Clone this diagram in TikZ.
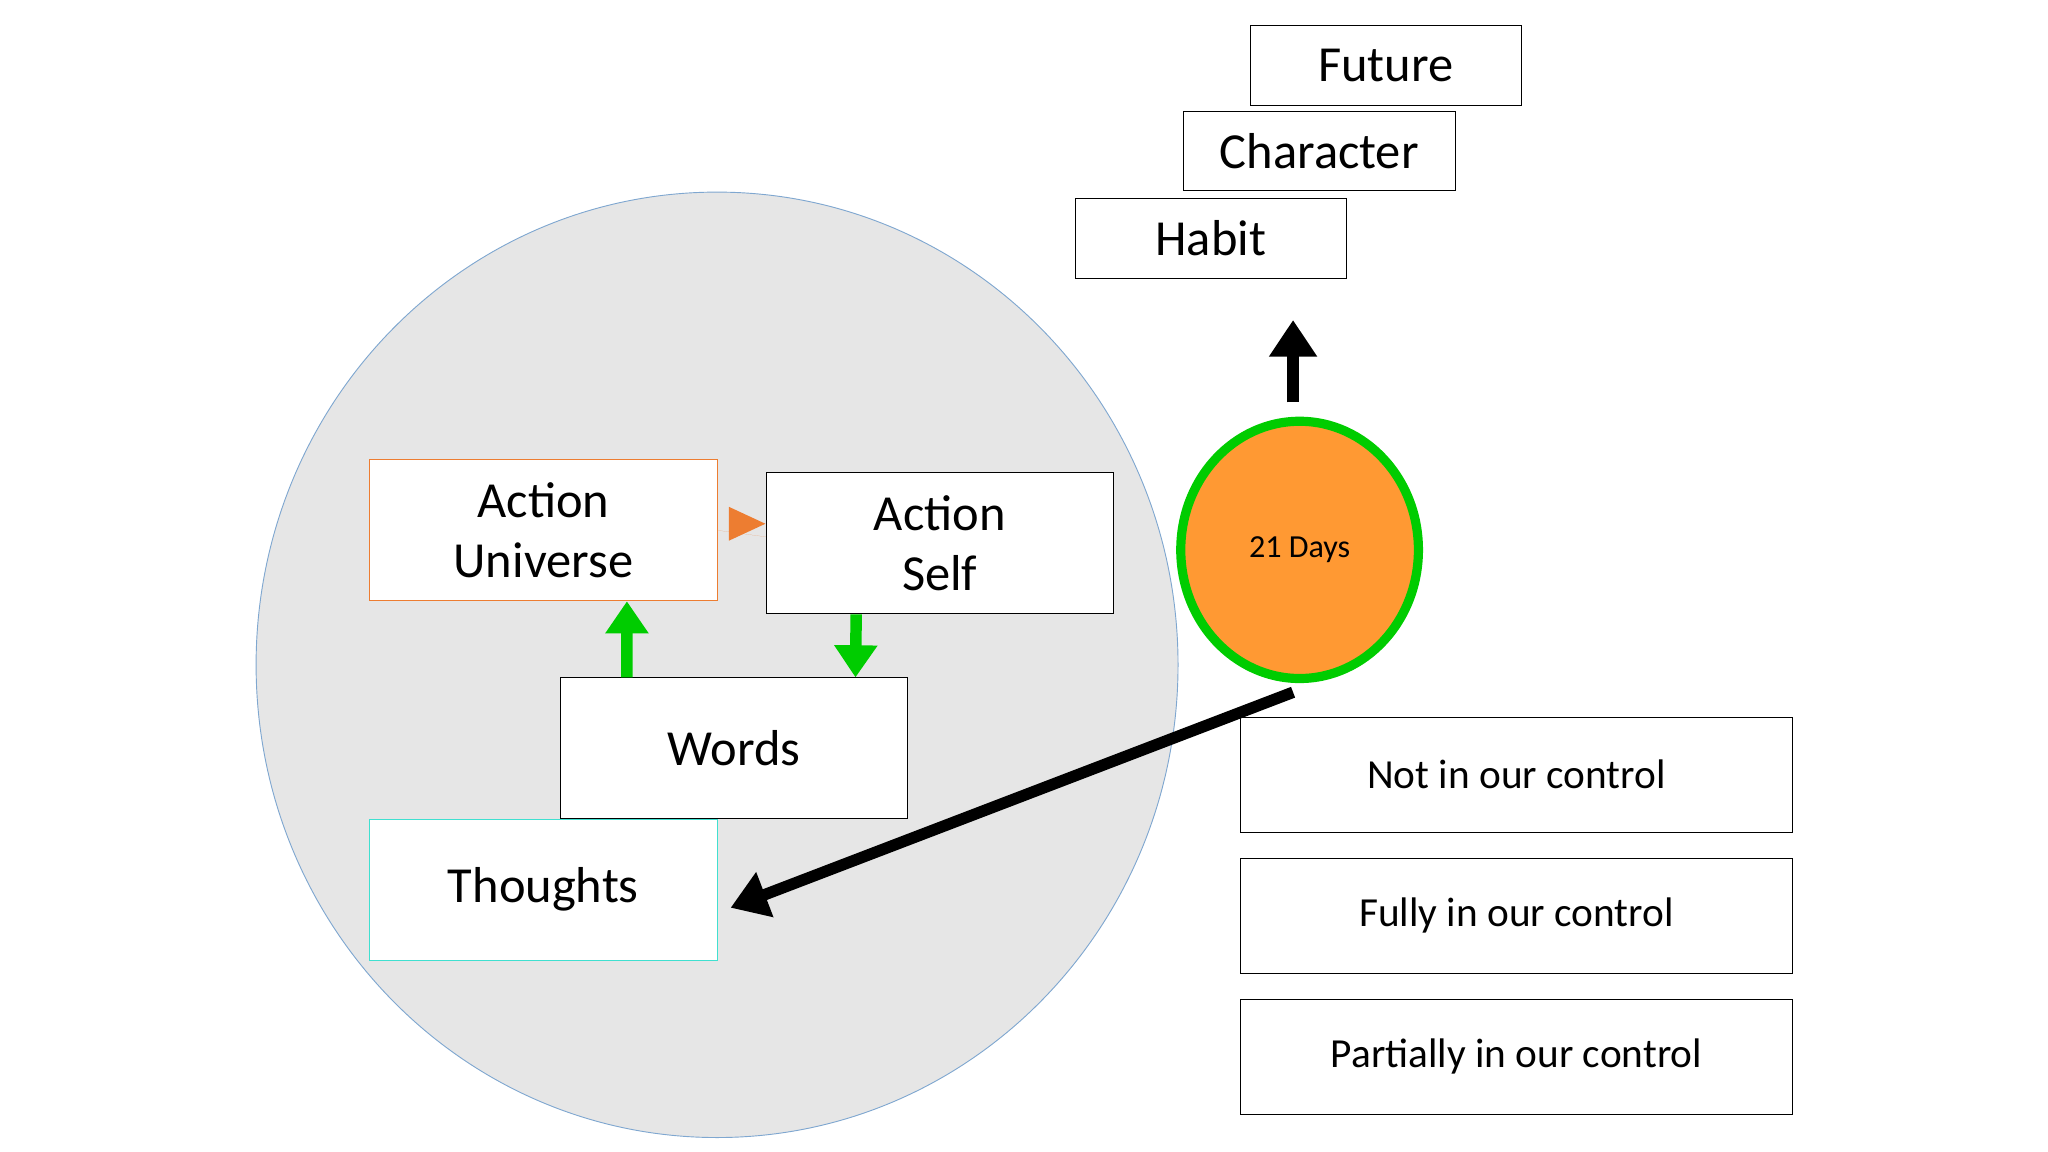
\documentclass[tikz,border=0pt]{standalone}
\usepackage{fontspec}
\setmainfont{Carlito}
\usetikzlibrary{arrows.meta, positioning, shapes.geometric}
\definecolor{ringblue}{HTML}{7FA7D0}
\definecolor{discgray}{HTML}{E6E6E6}
\definecolor{boxorange}{HTML}{ED7D31}
\definecolor{sunorange}{HTML}{FF9933}
\definecolor{arrowgreen}{HTML}{00CC00}
\definecolor{boxcyan}{HTML}{40E0D0}
\tikzset{
    inner/.style={rectangle, draw, fill=white, minimum width=5.32cm, minimum height=2.16cm, align=center, font=\fontsize{22}{26}\selectfont},
    stair/.style={rectangle, draw, fill=white, minimum width=4.16cm, minimum height=1.22cm, align=center, font=\fontsize{22}{26}\selectfont},
    control/.style={rectangle, draw, fill=white, minimum width=8.44cm, minimum height=1.76cm, align=center, font=\fontsize{18}{22}\selectfont},
    greenarrow/.style={-{Triangle[width=18pt,length=14pt]}, line width=5pt, arrowgreen},
    blackarrow/.style={-{Triangle[width=20pt,length=16pt]}, line width=5pt, black},
}
\begin{document}
\begin{tikzpicture}[x=0.02cm, y=-0.02cm]
    \useasboundingbox (0,0) rectangle (1568,882);
    % Circle of influence
    \node[ellipse, draw=ringblue, fill=discgray, minimum width=14.12cm, minimum height=14.48cm] (disc) at (549,509) {};

    \node[inner, draw=boxorange] (universe) at (416,406) {Action\\Universe};
    \node[inner] (self) at (719.5,416) {Action\\Self};
    \node[inner] (words) at (562,573) {Words};
    \node[inner, draw=boxcyan] (thoughts) at (416,681) {Thoughts};

    % Sun
    \node[ellipse, draw=arrowgreen, line width=4pt, fill=sunorange, minimum width=3.64cm, minimum height=3.94cm, font=\fontsize{14}{16}\selectfont] (days) at (995,421) {21 Days};
    \coordinate (daystop) at (990,308);
    \coordinate (daysfoot) at (990,530);

    % Staircase
    \node[stair] (habit) at (927,182.5) {Habit};
    \node[stair] (character) at (1010,115.5) {Character};
    \node[stair] (future) at (1061,50) {Future};
    \coordinate (habitbase) at (990,245);

    % Control legend
    \node[control] (notctrl) at (1161,593) {Not in our control};
    \node[control] (fullctrl) at (1161,701) {Fully in our control};
    \node[control] (partctrl) at (1161,809) {Partially in our control};

    % Arrows
    \draw[-{Triangle[width=28pt,length=28pt]}, draw=none, fill=boxorange] (universe.east) -- ([yshift=0.1cm]self.west);
    \fill[boxorange] (558,388) -- (586,401) -- (558,414) -- cycle;
    \draw[greenarrow] ([xshift=-1.64cm]words.north) -- ([xshift=1.28cm]universe.south);
    \draw[greenarrow] ([xshift=-1.28cm]self.south) -- ([xshift=1.86cm]words.north);
    \draw[blackarrow] (daystop) -- (habitbase);
    \draw[blackarrow] (daysfoot) -- ([xshift=0.2cm,yshift=-0.28cm]thoughts.east);
\end{tikzpicture}
\end{document}
